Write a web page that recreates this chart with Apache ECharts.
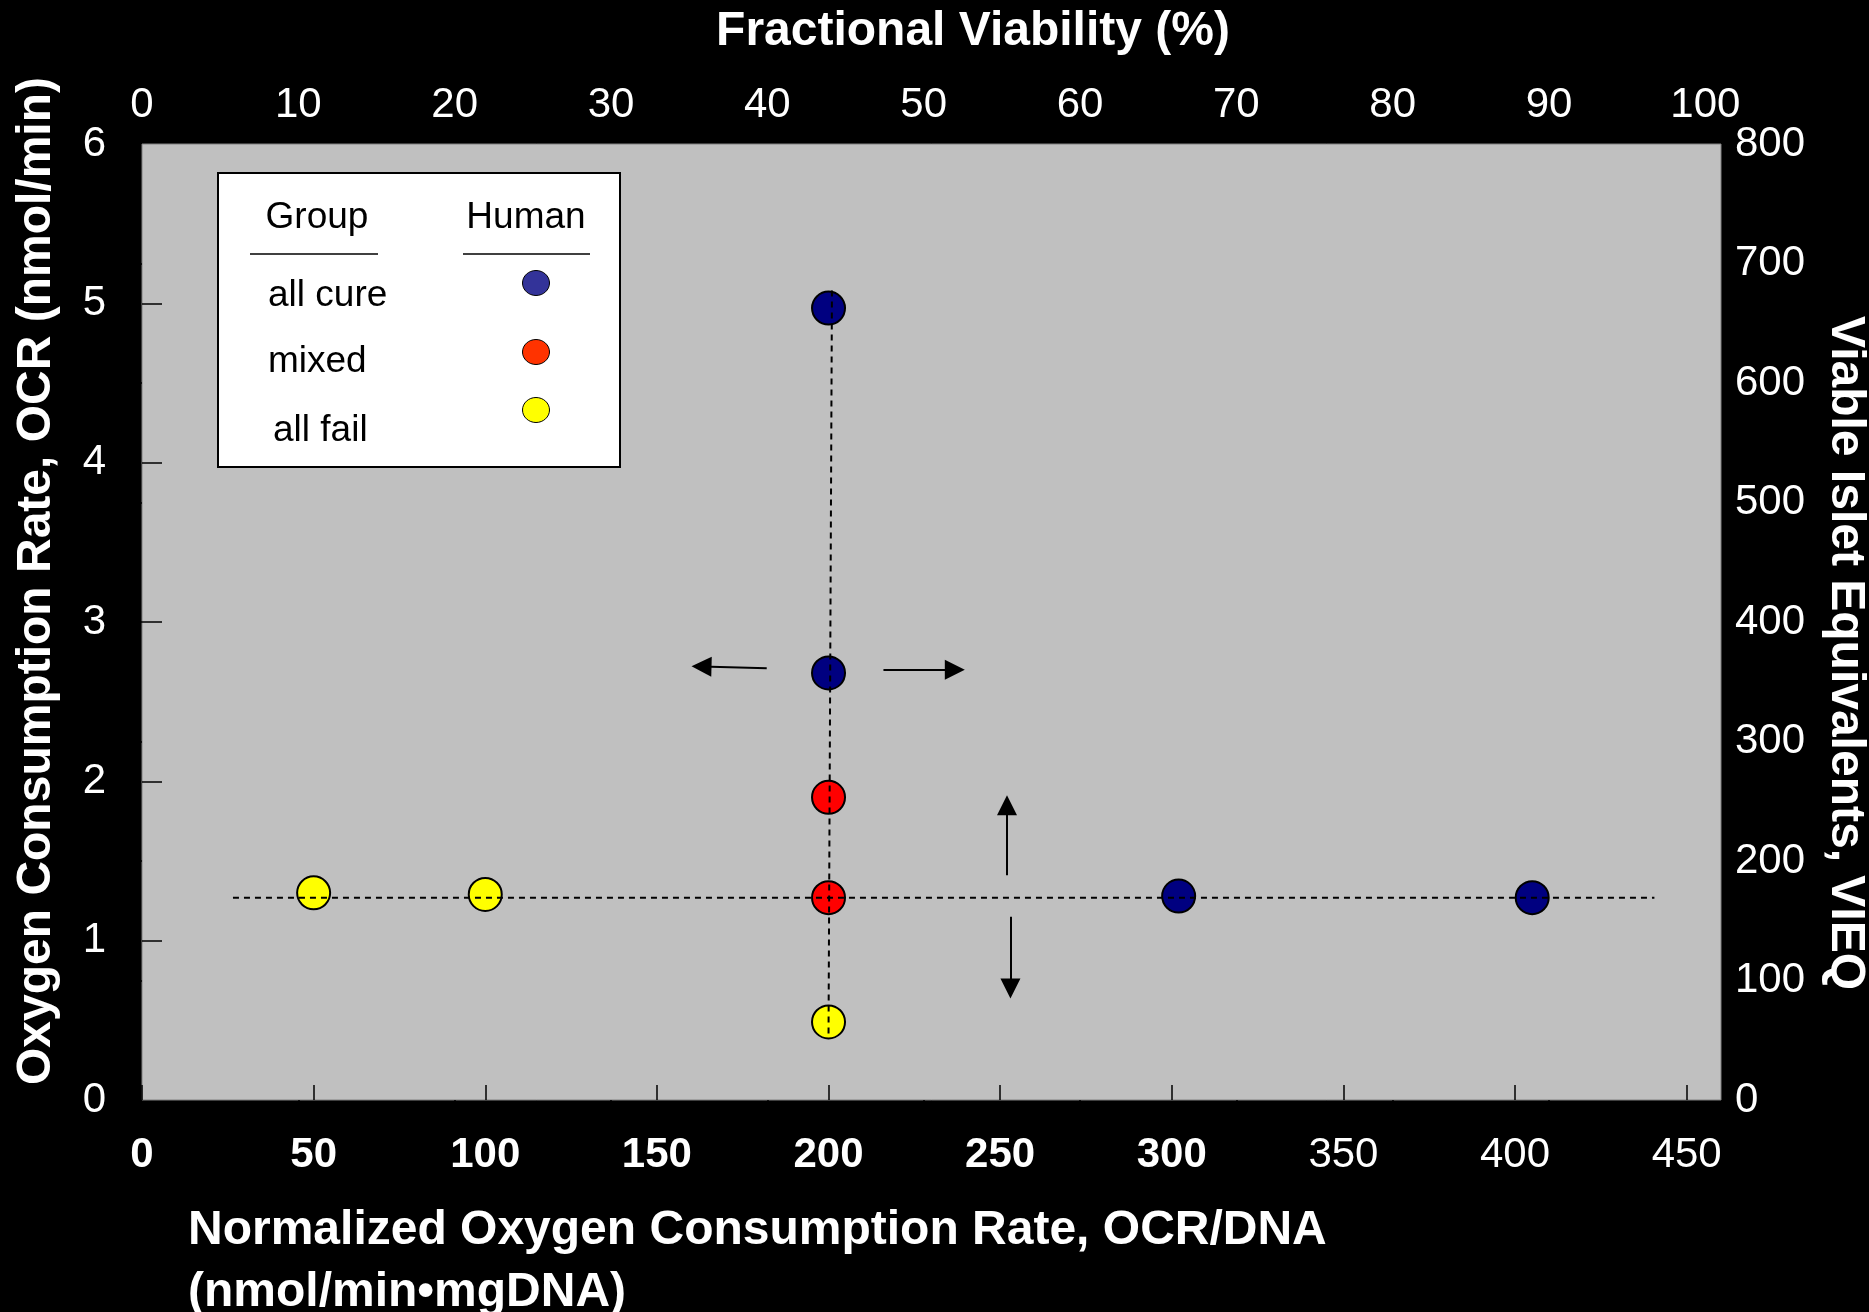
<!DOCTYPE html>
<html>
<head>
<meta charset="utf-8">
<script src="https://cdn.jsdelivr.net/npm/echarts@6/dist/echarts.min.js"></script>
<style>
  html, body { margin: 0; padding: 0; background: #000; }
  #chart { width: 1869px; height: 1312px; }
</style>
</head>
<body>
<div id="chart"></div>
<script>
// Human islet preparations: normalized OCR (OCR/DNA) against OCR, by transplant outcome
const allCure = [[200, 4.97], [200, 2.68], [302, 1.28], [405, 1.27]];
const mixed = [[200, 1.90], [200, 1.27]];
const allFail = [[50, 1.30], [100, 1.29], [200, 0.49]];

// threshold guide lines (OCR/DNA = 200, OCR = 1.27)
const verticalGuide = [[201, 5.08], [200, 0.41]];
const horizontalGuide = [[26.5, 1.27], [440.6, 1.27]];

// direction arrows: [from, to]
const arrows = [
  [[182, 2.71], [163, 2.72]],
  [[216, 2.70], [236.8, 2.70]],
  [[252, 1.41], [252, 1.85]],
  [[253, 1.15], [253, 0.70]]
];

// axis ticks
const ocrDnaTicks = [0, 50, 100, 150, 200, 250, 300, 350, 400, 450];
const ocrDnaBoldTicks = [0, 50, 100, 150, 200, 250, 300];
const ocrTicks = [0, 1, 2, 3, 4, 5, 6];
const ocrTickMarks = [1, 2, 3, 4, 5];
const viabilityTicks = [0, 10, 20, 30, 40, 50, 60, 70, 80, 90, 100];
const viabilityTickMarks = [10, 20, 30, 40, 50, 60, 70, 80, 90];
const vieqTicks = [0, 100, 200, 300, 400, 500, 600, 700, 800];
const vieqTickMarks = [100, 200, 300, 400, 500, 600, 700];

// legend entries
const groups = ['all cure', 'mixed', 'all fail'];
const groupColors = ['#333399', '#FF3300', '#FFFF00'];
const pointColors = ['#000080', '#FF0000', '#FFFF00'];

const FONT = '"Liberation Sans", Arial, Helvetica, sans-serif';

function txt(text, x, y, opts) {
  const o = opts || {};
  return {
    type: 'text', x: x, y: y, rotation: o.rotation || 0, z: 100,
    style: {
      text: text,
      fill: o.fill || '#fff',
      fontSize: o.size || 48,
      fontWeight: o.weight || 'bold',
      fontFamily: FONT,
      align: o.align || 'center', textAlign: o.align || 'center',
      verticalAlign: 'middle', textVerticalAlign: 'middle'
    }
  };
}

const tickStyle = { color: '#000', width: 1.5 };
const labelBase = { color: '#fff', fontSize: 42, fontFamily: FONT };

const legendRows = [296, 362, 431];
const legendDots = [283, 352, 410];
const legendTextX = [268, 268, 273];

const graphic = [
  txt('Fractional Viability (%)', 973, 32),
  txt('Oxygen Consumption Rate, OCR (nmol/min)', 37, 581, { rotation: Math.PI / 2 }),
  txt('Viable Islet Equivalents, VIEQ', 1845, 653, { rotation: -Math.PI / 2 }),
  txt('Normalized Oxygen Consumption Rate, OCR/DNA', 188, 1231, { align: 'left' }),
  txt('(nmol/min\u2022mgDNA)', 188, 1293, { align: 'left' }),
  // legend table
  { type: 'rect', z: 99, shape: { x: 218, y: 173, width: 402, height: 294 },
    style: { fill: '#fff', stroke: '#000', lineWidth: 2 } },
  txt('Group', 317, 218, { fill: '#000', size: 37, weight: 'normal' }),
  txt('Human', 526, 218, { fill: '#000', size: 37, weight: 'normal' }),
  { type: 'line', z: 100, shape: { x1: 250, y1: 254, x2: 378, y2: 254 }, style: { stroke: '#000', lineWidth: 1.5 } },
  { type: 'line', z: 100, shape: { x1: 463, y1: 254, x2: 590, y2: 254 }, style: { stroke: '#000', lineWidth: 1.5 } }
];
groups.forEach(function (g, i) {
  graphic.push(txt(g, legendTextX[i], legendRows[i], { fill: '#000', size: 37, weight: 'normal', align: 'left' }));
  graphic.push({ type: 'ellipse', z: 100, shape: { cx: 536, cy: legendDots[i], rx: 13.5, ry: 12.5 },
    style: { fill: groupColors[i], stroke: '#000', lineWidth: 1 } });
});

const chart = echarts.init(document.getElementById('chart'), null, { renderer: 'canvas' });

function scatterSeries(name, data, color) {
  return {
    name: name, type: 'scatter', data: data, z: 2,
    xAxisIndex: 0, yAxisIndex: 0,
    symbol: 'circle', symbolSize: 33,
    itemStyle: { color: color, borderColor: '#000', borderWidth: 2, opacity: 1 },
    emphasis: { disabled: true }
  };
}

function guideSeries(data, extra) {
  return Object.assign({
    type: 'line', data: data, z: 4, symbol: 'none', silent: true,
    xAxisIndex: 0, yAxisIndex: 0,
    lineStyle: { color: '#000', width: 2, type: [6, 5] },
    emphasis: { disabled: true }
  }, extra || {});
}

chart.setOption({
  backgroundColor: '#000',
  animation: false,
  textStyle: { fontFamily: FONT },
  grid: {
    left: 142, right: 148, top: 144, bottom: 212,
    show: true, backgroundColor: '#C0C0C0', borderColor: '#808080', borderWidth: 1,
    containLabel: false, outerBoundsMode: 'none'
  },
  graphic: graphic,
  xAxis: [
    {
      type: 'value', position: 'bottom', min: 0, max: 460,
      axisLine: { show: false }, splitLine: { show: false },
      axisTick: { show: true, inside: true, length: 15, lineStyle: tickStyle, customValues: ocrDnaTicks },
      axisLabel: {
        margin: 34, customValues: ocrDnaTicks,
        formatter: function (v) { return (ocrDnaBoldTicks.indexOf(v) >= 0 ? '{b|' : '{n|') + v + '}'; },
        rich: {
          b: Object.assign({ fontWeight: 'bold' }, labelBase),
          n: Object.assign({ fontWeight: 'normal' }, labelBase)
        }
      }
    },
    {
      type: 'value', position: 'top', min: 0, max: 101,
      axisLine: { show: false }, splitLine: { show: false },
      axisTick: { show: true, inside: true, length: 10, lineStyle: tickStyle, customValues: viabilityTickMarks },
      axisLabel: Object.assign({ margin: 18, customValues: viabilityTicks }, labelBase)
    }
  ],
  yAxis: [
    {
      type: 'value', position: 'left', min: 0, max: 6,
      axisLine: { show: false }, splitLine: { show: false },
      axisTick: { show: true, inside: true, length: 20, lineStyle: tickStyle, customValues: ocrTickMarks },
      axisLabel: Object.assign({ margin: 36, customValues: ocrTicks, padding: [0, 0, 10, 0] }, labelBase)
    },
    {
      type: 'value', position: 'right', min: 0, max: 800,
      axisLine: { show: false }, splitLine: { show: false },
      axisTick: { show: true, inside: true, length: 27, lineStyle: tickStyle, customValues: vieqTickMarks },
      axisLabel: Object.assign({ margin: 14, customValues: vieqTicks }, labelBase)
    }
  ],
  series: [
    scatterSeries('all cure', allCure, pointColors[0]),
    scatterSeries('mixed', mixed, pointColors[1]),
    scatterSeries('all fail', allFail, pointColors[2]),
    guideSeries(verticalGuide),
    guideSeries(horizontalGuide, {
      markLine: {
        silent: true,
        symbol: ['none', 'triangle'],
        symbolSize: 20,
        label: { show: false },
        lineStyle: { color: '#000', width: 2, type: 'solid' },
        itemStyle: { color: '#000' },
        emphasis: { disabled: true },
        data: arrows.map(function (a) {
          return [{ coord: a[0] }, { coord: a[1] }];
        })
      }
    })
  ]
});
</script>
</body>
</html>
